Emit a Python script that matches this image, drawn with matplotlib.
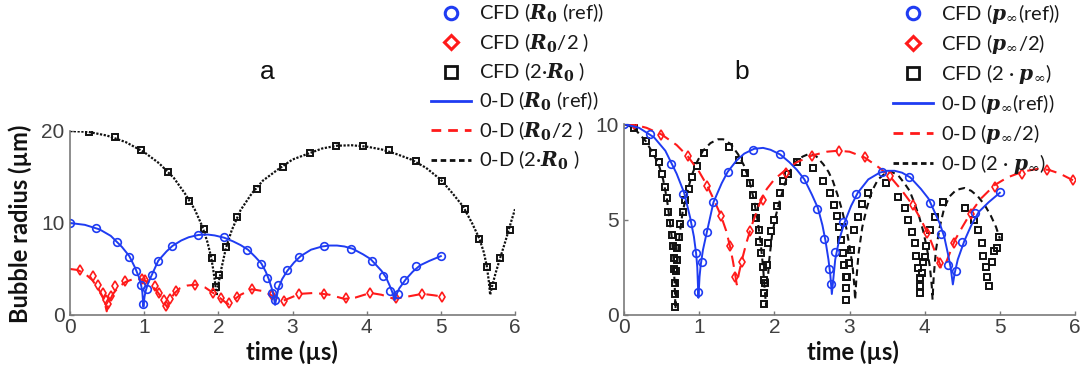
import matplotlib
matplotlib.use("Agg")
import matplotlib.pyplot as plt
from matplotlib.lines import Line2D

# ---------------- data ----------------
# reference case (same for R0(ref) and p_inf(ref))
t_ref_0d = [0, 0.2, 0.4, 0.55, 0.7, 0.8, 0.88, 0.93, 0.96, 0.975, 0.99, 1.005, 1.02, 1.05, 1.10, 1.19, 1.3, 1.38,
            1.5, 1.6, 1.73, 1.85, 1.95, 2.08, 2.2, 2.3, 2.4, 2.5, 2.58, 2.64, 2.68, 2.72, 2.745, 2.765, 2.785,
            2.81, 2.86, 2.93, 3.02, 3.11, 3.25, 3.4, 3.5, 3.6, 3.7, 3.81, 3.95, 4.05, 4.12, 4.2, 4.26, 4.31,
            4.345, 4.375, 4.40, 4.44, 4.53, 4.62, 4.72, 4.85, 5.0]
r_ref_0d = [10, 9.8, 9.3, 8.6, 7.4, 6.4, 5.1, 4.1, 3.2, 2.5, 0.9, 2.0, 2.6, 3.4, 4.3, 5.9, 6.9, 7.5,
            8.1, 8.45, 8.7, 8.75, 8.65, 8.4, 8.0, 7.6, 7.1, 6.3, 5.6, 4.7, 3.9, 2.9, 2.1, 1.1, 1.9,
            2.9, 3.9, 4.8, 5.7, 6.4, 7.1, 7.45, 7.55, 7.55, 7.45, 7.2, 6.6, 6.1, 5.5, 4.8, 4.1, 3.2,
            2.5, 1.6, 2.2, 2.9, 3.9, 4.7, 5.4, 5.9, 6.4]
t_ref_cfd = [0, 0.35, 0.63, 0.79, 0.89, 0.96, 0.99, 1.04, 1.10, 1.19, 1.38, 1.72, 2.07, 2.39, 2.57, 2.66,
             2.73, 2.76, 2.81, 2.92, 3.09, 3.43, 3.79, 4.07, 4.22, 4.31, 4.42, 4.50, 4.67, 5.0]
r_ref_cfd = [10, 9.5, 7.9, 6.35, 4.8, 3.25, 1.2, 2.8, 4.35, 5.9, 7.5, 8.65, 8.45, 7.1, 5.55, 4.0,
             2.4, 1.6, 3.3, 4.85, 6.35, 7.5, 7.2, 5.85, 4.25, 2.6, 2.3, 3.8, 5.35, 6.45]

# panel a : R0/2
t_halfR_0d = [0, 0.1, 0.2, 0.3, 0.38, 0.44, 0.475, 0.495, 0.52, 0.58, 0.65, 0.75, 0.85, 0.95, 1.05, 1.12,
              1.19, 1.25, 1.29, 1.315, 1.35, 1.4, 1.48, 1.58, 1.7, 1.82, 1.93, 2.03, 2.1, 2.14, 2.2, 2.3,
              2.45, 2.6, 2.75, 2.86, 2.95, 3.1, 3.3, 3.5, 3.7, 3.85, 4.05, 4.2, 4.37, 4.55, 4.75, 4.9, 5.02]
r_halfR_0d = [5, 4.9, 4.5, 3.8, 2.9, 2.0, 1.1, 0.4, 1.3, 2.3, 3.0, 3.6, 3.9, 3.9, 3.6, 3.1,
              2.4, 1.7, 1.1, 0.8, 1.5, 2.3, 2.9, 3.2, 3.3, 3.0, 2.4, 1.8, 1.35, 1.2, 1.6, 2.2,
              2.8, 2.6, 2.0, 1.5, 1.8, 2.3, 2.4, 2.2, 1.75, 1.9, 2.4, 2.2, 1.75, 2.0, 2.3, 2.15, 2.0]
t_halfR_cfd = [0.14, 0.31, 0.38, 0.45, 0.48, 0.51, 0.55, 0.61, 0.74, 0.97, 1.01, 1.14, 1.20, 1.27, 1.30, 1.35,
               1.43, 1.68, 1.93, 2.04, 2.15, 2.25, 2.45, 2.72, 2.89, 3.09, 3.42, 3.72, 4.04, 4.39, 4.75, 5.02]
r_halfR_cfd = [4.9, 4.2, 3.3, 2.4, 1.6, 1.2, 2.1, 3.1, 3.7, 3.9, 3.8, 3.1, 2.4, 1.6, 1.0, 1.7,
               2.6, 3.3, 2.4, 1.8, 1.3, 2.0, 2.8, 2.2, 1.5, 2.3, 2.3, 1.8, 2.4, 1.8, 2.3, 2.0]

# panel a : 2*R0
t_2R_0d = [0, 0.25, 0.5, 0.75, 1.0, 1.2, 1.4, 1.55, 1.68, 1.78, 1.85, 1.9, 1.93, 1.955, 1.975, 2.0, 2.04,
           2.1, 2.18, 2.3, 2.45, 2.6, 2.8, 3.0, 3.2, 3.4, 3.6, 3.8, 4.0, 4.2, 4.4, 4.6, 4.8, 5.0, 5.15,
           5.3, 5.42, 5.52, 5.58, 5.62, 5.645, 5.665, 5.69, 5.74, 5.8, 5.87, 5.95, 6.0]
r_2R_0d = [20, 19.9, 19.5, 18.8, 17.7, 16.5, 14.9, 13.2, 11.5, 9.7, 8.0, 6.4, 5.0, 3.6, 2.1, 3.3, 5.0,
           7.2, 9.2, 11.4, 13.2, 14.6, 15.8, 16.9, 17.5, 18.1, 18.4, 18.45, 18.3, 18.0, 17.5, 16.9, 16.0, 14.7, 13.3,
           11.8, 10.0, 8.3, 6.8, 5.3, 3.8, 2.2, 3.1, 4.6, 6.2, 8.0, 10.2, 11.5]
t_2R_cfd = [0.25, 0.61, 0.96, 1.32, 1.61, 1.80, 1.92, 1.97, 2.01, 2.11, 2.25, 2.52, 2.87, 3.24, 3.59, 3.95,
            4.30, 4.66, 5.02, 5.33, 5.52, 5.62, 5.70, 5.80, 5.93]
r_2R_cfd = [19.9, 19.3, 17.9, 15.5, 12.4, 9.3, 6.2, 3.0, 4.3, 7.4, 10.6, 13.7, 16.1, 17.6, 18.4, 18.4,
            17.9, 16.7, 14.6, 11.5, 8.3, 5.2, 3.2, 6.2, 9.2]

# panel b : p_inf/2
t_halfp_0d = [0, 0.15, 0.3, 0.5, 0.7, 0.85, 1.0, 1.11, 1.2, 1.29, 1.36, 1.41, 1.45, 1.48, 1.5, 1.53, 1.57,
              1.63, 1.7, 1.8, 1.9, 2.0, 2.15, 2.3, 2.5, 2.7, 2.85, 3.0, 3.2, 3.4, 3.55, 3.7, 3.85, 3.95,
              4.05, 4.12, 4.18, 4.22, 4.27, 4.33, 4.4, 4.5, 4.62, 4.75, 4.93, 5.1, 5.3, 5.5, 5.65, 5.8, 6.0]
r_halfp_0d = [10, 9.95, 9.8, 9.45, 8.9, 8.3, 7.5, 6.75, 6.0, 5.2, 4.4, 3.6, 2.8, 2.1, 1.6, 2.2, 2.9,
              3.8, 4.7, 5.8, 6.6, 7.1, 7.6, 8.0, 8.35, 8.55, 8.6, 8.55, 8.25, 7.7, 7.2, 6.5, 5.7, 5.0,
              4.2, 3.5, 2.9, 2.5, 2.6, 3.2, 3.9, 4.6, 5.4, 6.1, 6.8, 7.2, 7.5, 7.65, 7.6, 7.4, 7.0]
t_halfp_cfd = [0.13, 0.49, 0.85, 1.11, 1.29, 1.41, 1.48, 1.57, 1.68, 1.85, 2.15, 2.50, 2.86, 3.20, 3.54,
               3.85, 4.03, 4.20, 4.39, 4.62, 4.93, 5.29, 5.63, 5.97]
r_halfp_cfd = [10.0, 9.45, 8.3, 6.75, 5.2, 3.6, 2.0, 2.8, 4.4, 6.0, 7.45, 8.3, 8.6, 8.25, 7.3,
               5.75, 4.3, 2.7, 3.75, 5.3, 6.7, 7.4, 7.6, 7.05]

# panel b : 2*p_inf
t_2p_0d = [0, 0.13, 0.29, 0.38, 0.46, 0.52, 0.57, 0.61, 0.64, 0.66, 0.675, 0.685, 0.695, 0.71, 0.74, 0.78,
           0.84, 0.9, 0.97, 1.05, 1.15, 1.25, 1.32, 1.42, 1.52, 1.6, 1.67, 1.73, 1.78, 1.82, 1.85, 1.875,
           1.89, 1.905, 1.93, 1.97, 2.02, 2.07, 2.15, 2.23, 2.3, 2.38, 2.47, 2.56, 2.65, 2.72, 2.78, 2.84,
           2.9, 2.96, 3.0, 3.04, 3.065, 3.075, 3.09, 3.12, 3.17, 3.23, 3.3, 3.38, 3.47, 3.56, 3.65, 3.73,
           3.8, 3.87, 3.93, 3.98, 4.03, 4.07, 4.095, 4.105, 4.12, 4.15, 4.2, 4.26, 4.33, 4.42, 4.53, 4.62,
           4.71, 4.8, 4.88, 4.95, 5.0]
r_2p_0d = [10, 9.8, 9.1, 8.5, 7.9, 7.1, 6.1, 4.9, 3.9, 2.8, 1.5, 0.3, 1.5, 2.8, 4.2, 5.4,
           6.4, 7.3, 8.0, 8.6, 9.0, 9.2, 9.2, 8.95, 8.4, 7.8, 7.0, 6.0, 4.9, 3.7, 2.5, 1.2,
           0.5, 1.4, 2.8, 4.2, 5.2, 5.95, 7.0, 7.7, 8.1, 8.3, 8.45, 8.3, 7.9, 7.5, 7.0, 6.3,
           5.5, 4.5, 3.6, 2.6, 1.5, 0.8, 1.8, 3.2, 4.6, 5.6, 6.5, 7.1, 7.4, 7.5, 7.3, 6.9,
           6.5, 5.8, 5.1, 4.4, 3.5, 2.5, 1.5, 0.8, 2.0, 3.4, 4.6, 5.6, 6.2, 6.55, 6.65, 6.5,
           6.2, 5.75, 5.2, 4.6, 4.0]
t_2p_cfd = [0.13, 0.29, 0.38, 0.46, 0.50, 0.54, 0.57, 0.59, 0.61, 0.64, 0.65, 0.66, 0.67, 0.68, 0.68, 0.68,
            0.69, 0.70, 0.70, 0.73, 0.75, 0.78, 0.81, 0.86, 0.90, 0.97, 1.07, 1.40,
            1.53, 1.61, 1.68, 1.71, 1.74, 1.76, 1.79, 1.80, 1.82, 1.85, 1.86, 1.86, 1.86,
            1.88, 1.90, 1.92, 1.95, 1.99, 2.03, 2.07, 2.12, 2.18, 2.30,
            2.52, 2.65, 2.74, 2.79, 2.84, 2.86, 2.89, 2.91, 2.93, 2.95, 2.95, 2.95,
            2.97, 2.99, 3.02, 3.06, 3.11, 3.17, 3.24, 3.49,
            3.65, 3.74, 3.78, 3.83, 3.87, 3.89, 3.91, 3.94, 3.94, 3.94,
            3.97, 3.98, 4.00, 4.02, 4.07, 4.14, 4.25, 4.54,
            4.65, 4.71, 4.76, 4.78, 4.81, 4.83, 4.86, 4.89, 4.92, 4.96, 4.99]
r_2p_cfd = [9.8, 9.1, 8.5, 8.0, 7.4, 6.7, 6.1, 5.4, 4.8, 4.2, 3.6, 3.0, 2.4, 1.7, 1.1, 0.4,
            2.3, 2.9, 3.5, 4.1, 4.75, 5.4, 6.0, 6.6, 7.2, 7.8, 8.5, 8.8,
            8.1, 7.45, 6.9, 6.3, 5.67, 5.06, 4.45, 3.84, 3.23, 2.53, 1.83, 1.14, 0.6,
            1.7, 2.6, 3.75, 4.4, 5.0, 5.7, 6.4, 7.0, 7.4, 8.0,
            7.68, 7.03, 6.4, 5.76, 5.18, 4.59, 3.93, 3.23, 2.62, 2.0, 1.4, 0.79,
            2.0, 2.7, 3.4, 4.45, 5.15, 5.8, 6.37, 6.9,
            6.2, 5.58, 5.0, 4.36, 3.75, 3.09, 2.44, 1.92, 1.5, 1.14,
            2.2, 2.79, 3.05, 3.6, 4.45, 5.15, 5.9, 5.62,
            4.97, 4.45, 3.75, 3.09, 2.53, 2.0, 1.5, 2.79, 3.37, 3.49, 4.07]

x_ticks = [0, 1, 2, 3, 4, 5, 6]
y_ticks_a = [0, 10, 20]
y_ticks_b = [0, 5, 10]

labels_a = [r'CFD ($\mathbfit{R}_{\mathbf{0}}$ (ref))', r'CFD ($\mathbfit{R}_{\mathbf{0}}$/2 )',
            r'CFD (2·$\mathbfit{R}_{\mathbf{0}}$ )', r'0-D ($\mathbfit{R}_{\mathbf{0}}$ (ref))',
            r'0-D ($\mathbfit{R}_{\mathbf{0}}$/2 )', r'0-D (2·$\mathbfit{R}_{\mathbf{0}}$ )']
labels_b = [r'CFD ($\mathbfit{p}_{\infty}$(ref))', r'CFD ($\mathbfit{p}_{\infty}$/2)',
            r'CFD (2 · $\mathbfit{p}_{\infty}$)', r'0-D ($\mathbfit{p}_{\infty}$(ref))',
            r'0-D ($\mathbfit{p}_{\infty}$/2)', r'0-D (2 · $\mathbfit{p}_{\infty}$)']

# ---------------- style ----------------
plt.rcParams['font.family'] = ['Lato', 'DejaVu Sans']
plt.rcParams['mathtext.fontset'] = 'dejavuserif'

BLUE = '#1f3cf2'
RED = '#ff1a1a'
BLACK = '#111111'
GREY = '#7a7a7a'
TICKC = '#404040'

fig = plt.figure(figsize=(10.84, 3.73), dpi=100)
ax_a = fig.add_axes([70/1084, 58/373, 445/1084, 184/373])
ax_b = fig.add_axes([624/1084, 58/373, 451/1084, 191/373])

def style_axis(ax, yticks, ylim):
    ax.set_xlim(0, 6)
    ax.set_ylim(*ylim)
    ax.set_xticks(x_ticks)
    ax.set_xticklabels([str(v) for v in x_ticks], family='Liberation Sans', fontsize=15, color=TICKC)
    ax.set_yticks(yticks)
    ax.set_yticklabels([str(v) for v in yticks], family='Liberation Sans', fontsize=15, color=TICKC)
    for s in ['top', 'right']:
        ax.spines[s].set_visible(False)
    for s in ['left', 'bottom']:
        ax.spines[s].set_color(GREY)
        ax.spines[s].set_linewidth(1.2)
    ax.tick_params(direction='in', length=3, width=1, color=GREY)
    ax.tick_params(axis='x', pad=2)
    ax.tick_params(axis='y', pad=4)

circ = dict(marker='o', ms=5.5, mfc='none', mew=1.2, ls='none')
diam = dict(marker='d', ms=5, mfc='none', mew=1.2, ls='none')
sq = dict(marker='s', ms=4.3, mfc='none', mew=1.4, ls='none')

# panel a
ax_a.plot(t_2R_0d, r_2R_0d, color=BLACK, lw=1.6, dashes=(1.0, 0.7))
ax_a.plot(t_2R_cfd, r_2R_cfd, color=BLACK, **sq)
ax_a.plot(t_halfR_0d, r_halfR_0d, color=RED, lw=1.5, dashes=(5.5, 3.3))
ax_a.plot(t_halfR_cfd, r_halfR_cfd, color=RED, **diam)
ax_a.plot(t_ref_0d, r_ref_0d, color=BLUE, lw=1.4)
ax_a.plot(t_ref_cfd, r_ref_cfd, color=BLUE, **circ)
style_axis(ax_a, y_ticks_a, (0, 20))

# panel b
ax_b.plot(t_2p_0d, r_2p_0d, color=BLACK, lw=1.5, dashes=(3.2, 2.2))
ax_b.plot(t_2p_cfd, r_2p_cfd, color=BLACK, **sq)
ax_b.plot(t_halfp_0d, r_halfp_0d, color=RED, lw=1.5, dashes=(5.5, 3.3))
ax_b.plot(t_halfp_cfd, r_halfp_cfd, color=RED, **diam)
ax_b.plot(t_ref_0d, r_ref_0d, color=BLUE, lw=1.4)
ax_b.plot(t_ref_cfd, r_ref_cfd, color=BLUE, **circ)
style_axis(ax_b, y_ticks_b, (0, 10))

# legends (proxy handles)
def handles():
    return [Line2D([], [], color=BLUE, marker='o', ms=9, mfc='none', mew=2.2, ls='none'),
            Line2D([], [], color=RED, marker='D', ms=7, mfc='none', mew=2.2, ls='none'),
            Line2D([], [], color=BLACK, marker='s', ms=8, mfc='none', mew=2.0, ls='none'),
            Line2D([], [], color=BLUE, lw=2),
            Line2D([], [], color=RED, lw=2, dashes=(3.5, 2.5)),
            Line2D([], [], color=BLACK, lw=2, dashes=(2.0, 1.3))]

leg_kw = dict(loc='upper left', frameon=False, fontsize=14.5, handlelength=2.0,
              handletextpad=0.4, labelspacing=0.3, borderpad=0, borderaxespad=0,
              labelcolor='#1a1a1a')
fig.legend(handles(), labels_a, bbox_to_anchor=(431/1084, 1 - 2/373), **leg_kw)
fig.legend(handles(), labels_b, bbox_to_anchor=(893/1084, 1 - 2/373), **leg_kw)

# panel letters, axis labels
fig.text(267/1084, 1 - 72/373, 'a', ha='center', va='center', fontsize=19,
         family='Liberation Sans', color='#111111')
fig.text(742/1084, 1 - 72/373, 'b', ha='center', va='center', fontsize=19,
         family='Liberation Sans', color='#111111')
fig.text(292/1084, 1 - 352/373, 'time (µs)', ha='center', va='center', fontsize=17,
         fontweight='bold', color='#111111')
fig.text(853/1084, 1 - 352/373, 'time (µs)', ha='center', va='center', fontsize=17,
         fontweight='bold', color='#111111')
fig.text(20/1084, 1 - 224/373, 'Bubble radius (µm)', ha='center', va='center',
         rotation=90, fontsize=17, fontweight='bold', color='#111111')

fig.savefig('out.png', dpi=100)
